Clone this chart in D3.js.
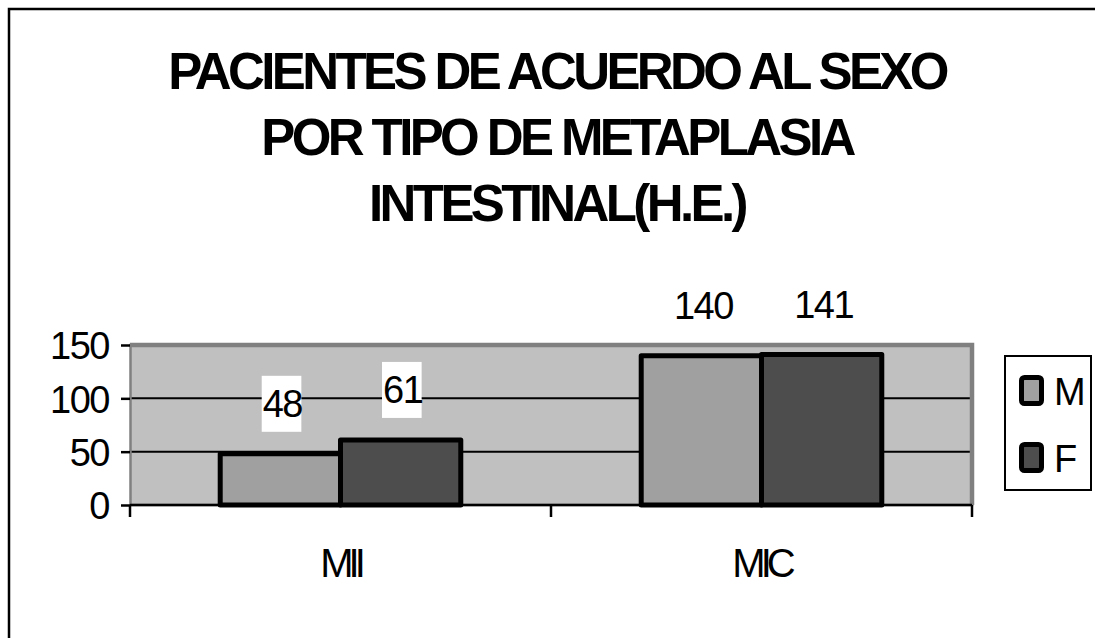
<!DOCTYPE html>
<html>
<head>
<meta charset="utf-8">
<script src="https://cdn.jsdelivr.net/npm/d3@7/dist/d3.min.js"></script>
<style>
  html, body { margin: 0; padding: 0; background: #fff; }
  svg { display: block; }
  text { font-family: "Liberation Sans", Arial, Helvetica, sans-serif; fill: #000; }
</style>
</head>
<body>
<svg id="chart" width="1095" height="638"></svg>
<script>
// Metaplasia type categories and patient counts by sex
const categories = ["MII", "MIC"];
const seriesNames = ["M", "F"];
const valuesM = [48, 140];
const valuesF = [61, 141];
const yTicks = [0, 50, 100, 150];
const titleLines = [
  "PACIENTES DE ACUERDO AL SEXO",
  "POR TIPO DE METAPLASIA",
  "INTESTINAL(H.E.)"
];

const colors = { M: "#a0a0a0", F: "#4d4d4d" };
const plotBg = "#c0c0c0";
const plotBorder = "#808080";

const svg = d3.select("#chart");

// outer chart frame
svg.append("rect")
  .attr("x", 9).attr("y", 9)
  .attr("width", 1100).attr("height", 640)
  .attr("fill", "#fff").attr("stroke", "#000").attr("stroke-width", 2.5);

// title
const title = svg.append("text")
  .attr("text-anchor", "middle")
  .style("font-weight", "bold")
  .style("font-size", "51px")
  .style("letter-spacing", "-3.6px");
titleLines.forEach((line, i) => {
  title.append("tspan")
    .attr("x", 557)
    .attr("y", 89 + i * 66)
    .text(line);
});

// plot area
const plot = { left: 130, right: 972, top: 345, bottom: 505 };

const x0 = d3.scaleBand()
  .domain(categories)
  .range([plot.left, plot.right])
  .paddingInner(0).paddingOuter(0);

// 150% gap width: the pair of bars fills 2 / 3.5 of each band
const gapRatio = 1.5;
const groupW = x0.bandwidth() * seriesNames.length / (seriesNames.length + gapRatio);
const x1 = d3.scaleBand()
  .domain(seriesNames)
  .range([0, groupW])
  .padding(0);

const y = d3.scaleLinear()
  .domain([0, 150])
  .range([plot.bottom, plot.top]);

// background
svg.append("rect")
  .attr("x", plot.left).attr("y", plot.top)
  .attr("width", plot.right - plot.left).attr("height", plot.bottom - plot.top)
  .attr("fill", plotBg);

// gridlines
svg.append("g")
  .selectAll("line")
  .data(yTicks.filter(t => t > 0 && t < 150))
  .join("line")
  .attr("x1", plot.left).attr("x2", plot.right)
  .attr("y1", d => y(d)).attr("y2", d => y(d))
  .attr("stroke", "#000").attr("stroke-width", 2);

// plot border: thin on the left, heavier on top and right
svg.append("rect")
  .attr("x", plot.left + 0.5).attr("y", plot.top)
  .attr("width", plot.right - plot.left - 0.5).attr("height", plot.bottom - plot.top)
  .attr("fill", "none")
  .attr("stroke", plotBorder).attr("stroke-width", 2.5);
svg.append("path")
  .attr("d", `M${plot.left},${plot.top} H${plot.right} V${plot.bottom}`)
  .attr("fill", "none")
  .attr("stroke", plotBorder).attr("stroke-width", 4.5);

// y axis
const yAxis = d3.axisLeft(y)
  .tickValues(yTicks)
  .tickSize(9)
  .tickPadding(12);
const gy = svg.append("g")
  .attr("transform", `translate(${plot.left},0)`)
  .call(yAxis);
gy.select(".domain").remove();
gy.selectAll(".tick line").attr("stroke", "#000").attr("stroke-width", 2.5);
gy.selectAll(".tick text")
  .attr("dy", "0.36em")
  .style("font-family", '"Liberation Sans", Arial, sans-serif')
  .style("font-size", "38px")
  .style("letter-spacing", "-1.5px")
  .attr("fill", "#000");

// x axis line and ticks between categories
svg.append("line")
  .attr("x1", plot.left).attr("x2", plot.right)
  .attr("y1", plot.bottom).attr("y2", plot.bottom)
  .attr("stroke", "#000").attr("stroke-width", 2.5);

const xBoundaries = categories.map(c => x0(c)).concat([x0(categories[categories.length - 1]) + x0.bandwidth()]);
svg.append("g")
  .selectAll("line")
  .data(xBoundaries)
  .join("line")
  .attr("x1", d => d).attr("x2", d => d)
  .attr("y1", plot.bottom).attr("y2", plot.bottom + 12)
  .attr("stroke", "#000").attr("stroke-width", 2.5);

// category labels
svg.append("g")
  .selectAll("text")
  .data(categories)
  .join("text")
  .attr("x", d => x0(d) + x0.bandwidth() / 2)
  .attr("y", 577)
  .attr("text-anchor", "middle")
  .style("font-size", "40px")
  .style("letter-spacing", "-5px")
  .text(d => d);

// bars
const rows = categories.map((c, i) => ({
  cat: c,
  items: [
    { key: "M", value: valuesM[i] },
    { key: "F", value: valuesF[i] }
  ]
}));

const groups = svg.append("g")
  .selectAll("g")
  .data(rows)
  .join("g")
  .attr("transform", d => `translate(${x0(d.cat) + (x0.bandwidth() - groupW) / 2},0)`);

groups.selectAll("rect")
  .data(d => d.items)
  .join("rect")
  .attr("x", d => x1(d.key))
  .attr("y", d => y(d.value))
  .attr("width", x1.bandwidth())
  .attr("height", d => y(0) - y(d.value))
  .attr("fill", d => colors[d.key])
  .attr("stroke", "#000")
  .attr("stroke-width", 5)
  .attr("stroke-linejoin", "round");

// value labels with white backing
const labels = groups.selectAll("g.lbl")
  .data(d => d.items)
  .join("g")
  .attr("class", "lbl");

labels.append("rect").attr("fill", "#fff");
labels.append("text")
  .attr("x", d => x1(d.key) + x1.bandwidth() / 2 + 2)
  .attr("y", d => y(d.value) - 37)
  .attr("text-anchor", "middle")
  .style("font-size", "38px")
  .style("letter-spacing", "-1.5px")
  .text(d => d.value);

labels.each(function () {
  const g = d3.select(this);
  const bb = g.select("text").node().getBBox();
  const baseline = +g.select("text").attr("y");
  g.select("rect")
    .attr("x", bb.x - 1)
    .attr("y", baseline - 41)
    .attr("width", bb.width)
    .attr("height", 56);
});

// legend
const legend = svg.append("g");
legend.append("rect")
  .attr("x", 1005).attr("y", 356)
  .attr("width", 86).attr("height", 134)
  .attr("fill", "#fff").attr("stroke", "#000").attr("stroke-width", 2);

const legendItems = legend.selectAll("g")
  .data(seriesNames)
  .join("g")
  .attr("transform", (d, i) => `translate(0,${i * 67})`);

legendItems.append("rect")
  .attr("x", 1021.5).attr("y", 377.5)
  .attr("width", 20).attr("height", 26)
  .attr("rx", 3)
  .attr("fill", d => colors[d])
  .attr("stroke", "#000").attr("stroke-width", 5)
  .attr("stroke-linejoin", "round");

legendItems.append("text")
  .attr("x", 1054)
  .attr("y", 405)
  .style("font-size", "38px")
  .text(d => d);
</script>
</body>
</html>
